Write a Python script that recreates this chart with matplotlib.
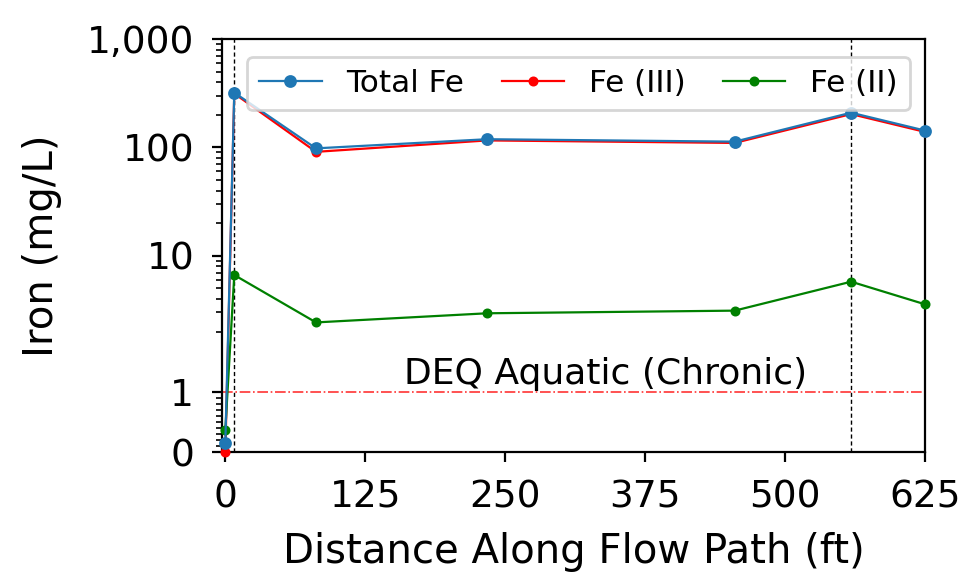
import numpy as np
import matplotlib
matplotlib.use("Agg")
import matplotlib.pyplot as plt
from matplotlib.ticker import FixedLocator, FuncFormatter

# Distance along flow path (ft) and iron concentrations (mg/L)
distance = [0, 8, 81, 234, 455, 559, 625]
total_fe = [0.15, 320, 98, 119, 113, 209, 143]
fe_iii = [0.0, 314, 91, 116, 110, 203, 139]
fe_ii = [0.37, 6.65, 2.43, 2.95, 3.12, 5.77, 3.57]

deq_limit = 1.0
marker_lines = [8, 559]

y_major = [0, 1, 10, 100, 1000]
y_minor = [0.1, 0.2, 0.3, 0.4, 0.5, 0.6, 0.7, 0.8, 0.9,
           2, 3, 4, 5, 6, 7, 8, 9,
           20, 30, 40, 50, 60, 70, 80, 90,
           200, 300, 400, 500, 600, 700, 800, 900]
x_ticks = [0, 125, 250, 375, 500, 625]

fig = plt.figure(figsize=(4.84, 2.885), dpi=200)
ax = fig.add_axes([0.2293, 0.2166, 0.7263, 0.7158])

ax.plot(distance, total_fe, "-o", color="#1f77b4", lw=0.8, ms=3.6,
        label="Total Fe", zorder=4, clip_on=False)
ax.plot(distance, fe_iii, "-o", color="red", lw=0.8, ms=2.6,
        label="Fe (III)", zorder=3, clip_on=False)
ax.plot(distance, fe_ii, "-o", color="green", lw=0.8, ms=2.6,
        label="Fe (II)", zorder=3, clip_on=False)

for xv in marker_lines:
    ax.axvline(xv, color="black", ls="--", lw=0.5, dashes=(3, 2))

ax.axhline(deq_limit, color="red", ls="-.", lw=0.6, alpha=0.8)
ax.text(160, 1.02, "DEQ Aquatic (Chronic)", fontsize=13,
        ha="left", va="bottom")

ax.set_yscale("symlog")
ax.set_ylim(0, 1000)
ax.yaxis.set_major_locator(FixedLocator(y_major))
ax.yaxis.set_minor_locator(FixedLocator(y_minor))
ax.yaxis.set_major_formatter(FuncFormatter(lambda v, p: f"{v:,.0f}"))

ax.set_xlim(-3, 625)
ax.set_xticks(x_ticks)

ax.tick_params(axis="both", which="major", labelsize=13.5, pad=6.5)
ax.set_xlabel("Distance Along Flow Path (ft)", fontsize=14.5, labelpad=6)
ax.set_ylabel("Iron (mg/L)", fontsize=14.5, labelpad=9)

ax.legend(loc="upper center", ncol=3, fontsize=11.2,
          bbox_to_anchor=(0.507, 0.98), borderaxespad=0.3,
          handlelength=2.0, columnspacing=1.2)

fig.savefig("out.png", dpi=200)
